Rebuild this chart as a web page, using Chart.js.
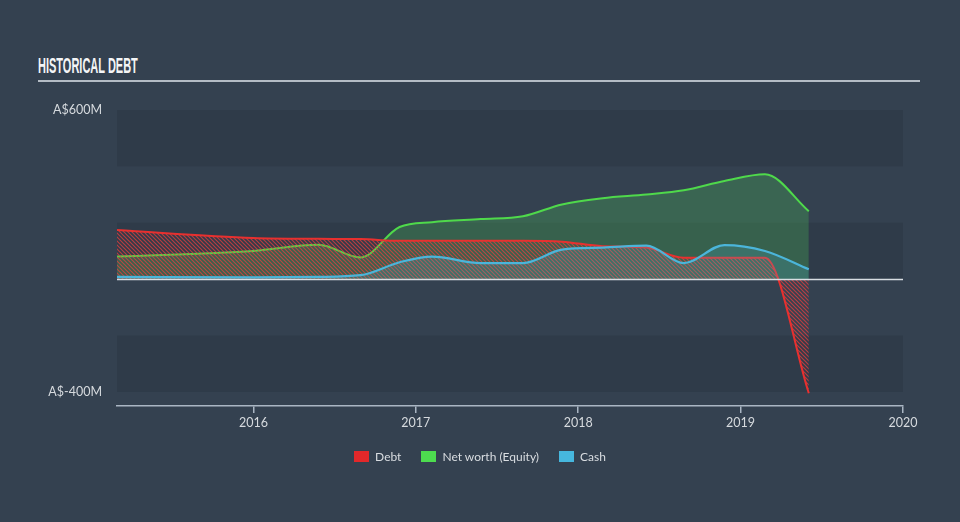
<!DOCTYPE html>
<html>
<head>
<meta charset="utf-8">
<script src="https://cdn.jsdelivr.net/npm/chart.js@4/dist/chart.umd.min.js"></script>
<style>
  html, body { margin: 0; padding: 0; }
  body { width: 960px; height: 522px; background: #344150; position: relative; overflow: hidden; font-family: Lato, "Open Sans", sans-serif; }
  #title { position: absolute; left: 38px; top: 55px; color: #f4f5f6; font-family: "Liberation Sans", sans-serif; font-weight: bold; font-size: 22px; transform: scaleX(0.5); transform-origin: left top; white-space: nowrap; line-height: 1; }
  #rule { position: absolute; left: 38px; top: 80px; width: 882px; height: 2px; background: #b4bcc5; }
  canvas { position: absolute; left: 0; top: 0; }
  #legend { position: absolute; left: 0; width: 960px; top: 449px; display: flex; justify-content: center; align-items: center; color: #d9dde1; font-size: 12px; }
  .item { display: flex; align-items: center; margin: 0 10px; }
  .sw { width: 15px; height: 11px; margin-right: 6px; }
</style>
</head>
<body>
<div id="title">HISTORICAL DEBT</div>
<div id="rule"></div>
<canvas id="c" width="960" height="522"></canvas>
<div id="legend"></div>
<script>
// ---- data (x = decimal year) ----
const dates   = [2015.16, 2016.0, 2016.4, 2016.66, 2016.9, 2017.1, 2017.4, 2017.66, 2017.9, 2018.15, 2018.42, 2018.65, 2018.9, 2019.15, 2019.42];
const debt    = [174, 146, 143, 142, 136, 136, 136, 136, 133, 117, 112, 76, 76, 76, -405];
const equity  = [80, 100, 122, 77, 185, 202, 213, 223, 265, 287, 300, 315, 348, 372, 241];
const cash    = [8, 6, 8, 14, 60, 80, 57, 57, 105, 112, 119, 57, 121, 100, 35];
const seriesNames = ['Debt', 'Net worth (Equity)', 'Cash'];
const xTickYears = [2016, 2017, 2018, 2019, 2020];
const yTickValues = [600, -400];
const xMin = 2015.16, xMax = 2020;
const yMin = -450, yMax = 600;

const colors = { debt: '#e8302f', equity: '#4fd94b', cash: '#4bb5da' };

function pts(ys) { return dates.map((d, i) => ({ x: d, y: ys[i] })); }

// hatch pattern for debt
function hatch(color) {
  const p = document.createElement('canvas');
  p.width = 4; p.height = 4;
  const g = p.getContext('2d');
  g.strokeStyle = color; g.lineWidth = 1.2;
  g.beginPath();
  g.moveTo(0, 0); g.lineTo(4, 4);
  g.moveTo(-1, 3); g.lineTo(1, 5);
  g.moveTo(3, -1); g.lineTo(5, 1);
  g.stroke();
  return g.createPattern(p, 'repeat');
}
const ctx = document.getElementById('c').getContext('2d');
const debtPattern = hatch('rgba(236,62,62,0.72)');

const bandsPlugin = {
  id: 'bands',
  beforeDraw(chart) {
    const c = chart.ctx;
    c.save();
    c.beginPath(); c.rect(47, 0, 913, 522); c.clip();
  },
  beforeDatasetsDraw(chart) {
    const c = chart.ctx, a = chart.chartArea, y = chart.scales.y;
    c.save();
    c.fillStyle = '#2f3b49';
    [[400, 600], [0, 200], [-400, -200]].forEach(([lo, hi]) => {
      const t = y.getPixelForValue(hi), b = y.getPixelForValue(lo);
      c.fillRect(a.left, t, a.right - a.left, b - t);
    });
    c.restore();
  },
  afterDatasetsDraw(chart) {
    const c = chart.ctx, a = chart.chartArea, y = chart.scales.y;
    const y0 = Math.round(y.getPixelForValue(0)) + 0.5;
    c.save();
    c.strokeStyle = '#d8dde2'; c.lineWidth = 1.6;
    c.beginPath(); c.moveTo(a.left, y0); c.lineTo(a.right, y0); c.stroke();
    c.restore();
  },
  afterDraw(chart) { chart.ctx.restore(); }
};

new Chart(ctx, {
  type: 'line',
  data: {
    datasets: [
      { label: seriesNames[0], data: pts(debt), borderColor: colors.debt, backgroundColor: debtPattern, fill: 'origin', borderWidth: 2, order: 1 },
      { label: seriesNames[1], data: pts(equity), borderColor: colors.equity, backgroundColor: 'rgba(77,200,90,0.27)', fill: 'origin', borderWidth: 2, order: 2 },
      { label: seriesNames[2], data: pts(cash), borderColor: colors.cash, backgroundColor: 'rgba(75,180,216,0.2)', fill: 'origin', borderWidth: 2.2, order: 0 }
    ]
  },
  options: {
    responsive: false,
    devicePixelRatio: 1,
    animation: false,
    layout: { padding: { left: 0, right: 57, top: 110, bottom: 86 } },
    elements: { point: { radius: 0 }, line: { cubicInterpolationMode: 'monotone' } },
    plugins: { legend: { display: false }, tooltip: { enabled: false } },
    scales: {
      x: {
        type: 'linear', min: xMin, max: xMax,
        afterBuildTicks(s) { s.ticks = xTickYears.map(v => ({ value: v })); },
        afterFit(s) { s.height = 30; },
        grid: { drawOnChartArea: false, drawTicks: true, tickLength: 7, color: '#aab6c3', lineWidth: 1.5 },
        border: { display: true, color: '#aab6c3', width: 1.5 },
        ticks: { color: '#d6dade', font: { family: 'Lato', size: 12.5 }, padding: 2, maxRotation: 0, callback: v => String(v) }
      },
      y: {
        min: yMin, max: yMax,
        afterBuildTicks(s) { s.ticks = yTickValues.map(v => ({ value: v })); },
        afterFit(s) { s.width = 117; },
        grid: { display: false, drawTicks: false },
        border: { display: false },
        ticks: { color: '#d6dade', font: { family: 'Lato', size: 12.5 }, padding: 15, callback: v => 'A$' + v + 'M' }
      }
    }
  },
  plugins: [bandsPlugin]
});

// HTML legend
const lg = document.getElementById('legend');
[[seriesNames[0], '#e2282a'], [seriesNames[1], '#4ddc4f'], [seriesNames[2], '#46b7de']].forEach(([n, c]) => {
  const it = document.createElement('div'); it.className = 'item';
  const sw = document.createElement('div'); sw.className = 'sw'; sw.style.background = c;
  const tx = document.createElement('span'); tx.textContent = n;
  it.appendChild(sw); it.appendChild(tx); lg.appendChild(it);
});
</script>
</body>
</html>
